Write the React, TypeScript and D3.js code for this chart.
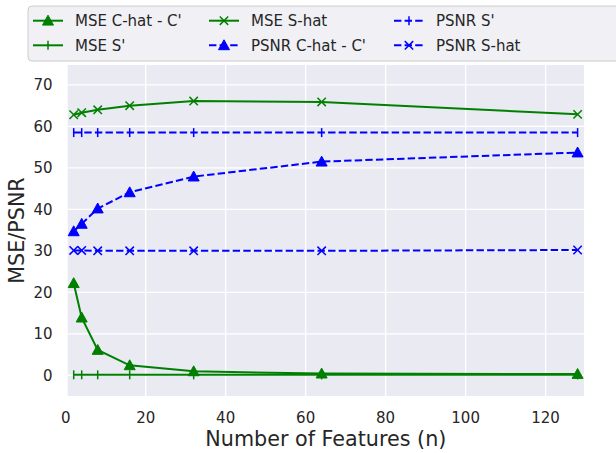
import React from "react";
import * as d3 from "d3";

const features = [2, 4, 8, 16, 32, 64, 128];
const mseCHat = [22.2, 13.9, 6.1, 2.4, 0.95, 0.4, 0.3];
const mseSPrime = [0.1, 0.1, 0.1, 0.1, 0.1, 0.1, 0.1];
const mseSHat = [62.8, 63.3, 64.0, 65.0, 66.1, 65.9, 62.9];
const psnrCHat = [34.7, 36.5, 40.2, 44.1, 47.9, 51.5, 53.7];
const psnrSPrime = [58.5, 58.5, 58.5, 58.5, 58.5, 58.5, 58.5];
const psnrSHat = [30.1, 30.1, 30.0, 30.0, 30.0, 30.0, 30.2];
const xTicks = [0, 20, 40, 60, 80, 100, 120];
const yTicks = [0, 10, 20, 30, 40, 50, 60, 70];

type Marker = "tri" | "vline" | "x";
const seriesList: { name: string; values: number[]; color: string; dashed: boolean; marker: Marker }[] = [
  { name: "MSE C-hat - C'", values: mseCHat, color: "#008000", dashed: false, marker: "tri" },
  { name: "MSE S'", values: mseSPrime, color: "#008000", dashed: false, marker: "vline" },
  { name: "MSE S-hat", values: mseSHat, color: "#008000", dashed: false, marker: "x" },
  { name: "PSNR C-hat - C'", values: psnrCHat, color: "#0000ff", dashed: true, marker: "tri" },
  { name: "PSNR S'", values: psnrSPrime, color: "#0000ff", dashed: true, marker: "vline" },
  { name: "PSNR S-hat", values: psnrSHat, color: "#0000ff", dashed: true, marker: "x" },
];

const FONT = "DejaVu Sans, sans-serif";
const TXT = "#262626";

function MarkerShape({ kind, cx, cy, color }: { kind: Marker; cx: number; cy: number; color: string }) {
  if (kind === "tri") {
    const s = 5.5;
    return <path d={`M${cx},${cy - s} L${cx + s},${cy + s * 0.8} L${cx - s},${cy + s * 0.8} Z`} fill={color} stroke={color} strokeWidth={1} />;
  }
  if (kind === "vline") {
    return <line x1={cx} x2={cx} y1={cy - 4.5} y2={cy + 4.5} stroke={color} strokeWidth={1.5} />;
  }
  const s = 4.2;
  return (
    <g stroke={color} strokeWidth={1.5}>
      <line x1={cx - s} y1={cy - s} x2={cx + s} y2={cy + s} />
      <line x1={cx - s} y1={cy + s} x2={cx + s} y2={cy - s} />
    </g>
  );
}

export default function App() {
  const left = 67.7, right = 584, top = 65, bottom = 396;
  const x = d3.scaleLinear().domain([0.5, 129.6]).range([left, right]);
  const y = d3.scaleLinear().domain([-5, 74.8]).range([bottom, top]);
  const line = d3.line<number>().x((_, i) => x(features[i])).y((v) => y(v));

  const legendCols = [33, 209, 394];
  const legendRows = [20.7, 45.3];

  return (
    <svg width={616} height={453} style={{ position: "absolute", left: 0, top: 0, background: "#fff" }} fontFamily={FONT}>
      <rect x={left} y={top} width={right - left} height={bottom - top} fill="#eaeaf2" />
      {xTicks.map((t) => (
        <line key={"gx" + t} x1={x(t)} x2={x(t)} y1={top} y2={bottom} stroke="#fff" strokeWidth={1.3} />
      ))}
      {yTicks.map((t) => (
        <line key={"gy" + t} x1={left} x2={right} y1={y(t)} y2={y(t)} stroke="#fff" strokeWidth={1.3} />
      ))}
      {xTicks.map((t) => (
        <text key={"tx" + t} x={x(t)} y={422.7} textAnchor="middle" fontSize={15} fill={TXT}>{t}</text>
      ))}
      {yTicks.map((t) => (
        <text key={"ty" + t} x={52.5} y={y(t) + 5.4} textAnchor="end" fontSize={15} fill={TXT}>{t}</text>
      ))}
      <text x={(left + right) / 2} y={445.5} textAnchor="middle" fontSize={20.7} fill={TXT}>Number of Features (n)</text>
      <text transform={`translate(24,${(top + bottom) / 2}) rotate(-90)`} textAnchor="middle" fontSize={20.7} fill={TXT}>MSE/PSNR</text>

      {seriesList.map((s) => (
        <g key={s.name}>
          <path d={line(s.values) || ""} fill="none" stroke={s.color} strokeWidth={2} strokeDasharray={s.dashed ? "7.4,3.2" : undefined} />
          {s.values.map((v, i) => (
            <MarkerShape key={i} kind={s.marker} cx={x(features[i])} cy={y(v)} color={s.color} />
          ))}
        </g>
      ))}

      <rect x={28} y={6} width={600} height={55} rx={4} fill="#eeeef4" fillOpacity={0.9} stroke="#cccccc" strokeWidth={1} />
      {seriesList.map((s, i) => {
        const col = Math.floor(i / 2);
        const row = i % 2;
        const hx = legendCols[col];
        const hy = legendRows[row];
        return (
          <g key={"lg" + i}>
            <line x1={hx} x2={hx + 30} y1={hy} y2={hy} stroke={s.color} strokeWidth={2} strokeDasharray={s.dashed ? "7.4,3.2" : undefined} />
            <MarkerShape kind={s.marker} cx={hx + 15} cy={hy} color={s.color} />
            <text x={hx + 42} y={hy + 5.4} fontSize={15} fill={TXT}>{s.name}</text>
          </g>
        );
      })}
    </svg>
  );
}
